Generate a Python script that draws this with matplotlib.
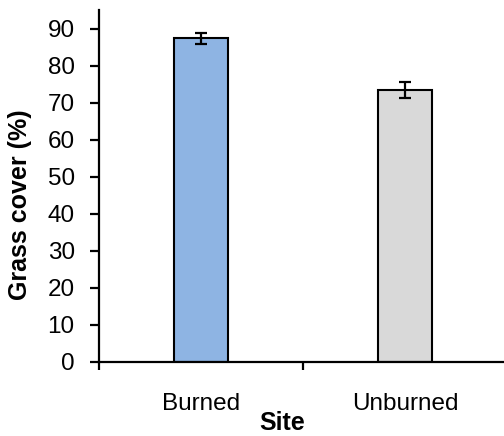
import numpy as np
import matplotlib
matplotlib.use('Agg')
import matplotlib.pyplot as plt

plt.rcParams['font.family'] = ['Liberation Sans', 'DejaVu Sans']

# data
sites = ['Burned', 'Unburned']
cover = [87.3, 73.3]
cover_err = [1.6, 2.2]
bar_colors = ['#8EB4E3', '#D9D9D9']

fig = plt.figure(figsize=(5.04, 4.36), dpi=100)
W, H = 504, 436
# axes extends a bit past the right edge, like the original
ax = fig.add_axes([99 / W, 1 - 361.5 / H, (507 - 99) / W, (361.5 - 10) / H])

x = np.arange(len(sites))
ax.bar(x, cover, width=0.26, color=bar_colors, edgecolor='black', linewidth=1.5,
       yerr=cover_err, capsize=4, error_kw=dict(elinewidth=1.6, capthick=1.6, ecolor='black'),
       zorder=2)

ax.set_xlim(-0.5, len(sites) - 0.5)
ax.set_ylim(0, 95)
ax.set_yticks(np.arange(0, 91, 10))

# ticks at category boundaries, labels at centres
ax.set_xticks(np.arange(-0.5, len(sites), 1.0))
ax.set_xticklabels([])
ax.set_xticks(x, minor=True)
ax.set_xticklabels(sites, minor=True, fontsize=17.5)
ax.tick_params(axis='x', which='major', direction='out', length=6, width=1.6)
ax.tick_params(axis='x', which='minor', length=0, pad=23)
ax.tick_params(axis='y', direction='out', length=6.5, width=1.6, pad=11, labelsize=17.5)

for side in ['top', 'right']:
    ax.spines[side].set_visible(False)
for side in ['left', 'bottom']:
    ax.spines[side].set_linewidth(1.6)

fig.text(20 / W, 1 - 205 / H, 'Grass cover (%)', rotation=90, fontsize=18,
         fontweight='bold', ha='center', va='center')
fig.text(282 / W, 1 - 423 / H, 'Site', fontsize=18, fontweight='bold',
         ha='center', va='center')

plt.savefig('out.png', dpi=100)
